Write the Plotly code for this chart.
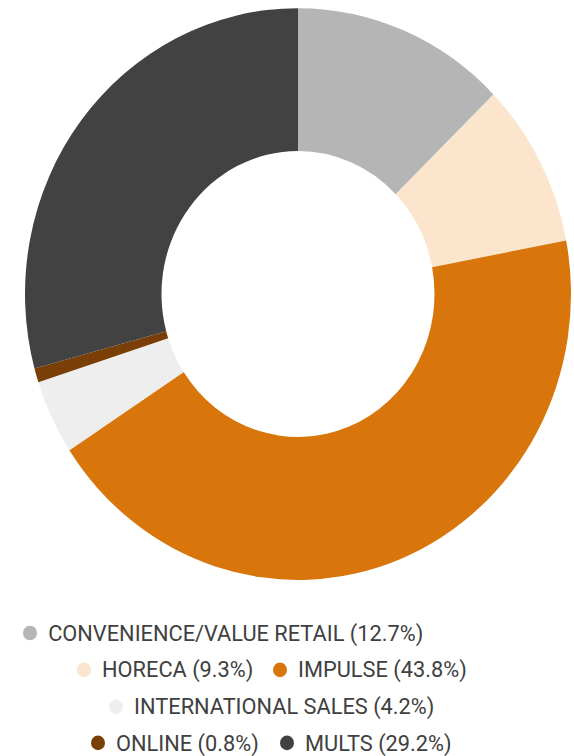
import plotly.graph_objects as go

# Sales mix by channel
labels = ["CONVENIENCE/VALUE RETAIL", "HORECA", "IMPULSE",
          "INTERNATIONAL SALES", "ONLINE", "MULTS"]
shares = [12.7, 9.3, 43.8, 4.2, 0.8, 29.2]
colors = ["#b5b5b5", "#fbe5cd", "#d9760b", "#eeeeee", "#7a3f06", "#424242"]

W, H = 574, 722          # drawing size before the vertical stretch
STRETCH = 756 / H

# donut geometry (pixels)
cx, cy, R = 298, 280.8, 273

# legend layout: rows of item indices, marker centre x per item, row centre y
legend_rows = [[0], [1, 2], [3], [4, 5]]
marker_x = {0: 30, 1: 84, 2: 280, 3: 116, 4: 98, 5: 287}
row_y = [604.5, 639.8, 675.0, 709.5]

fig = go.Figure()
fig.add_trace(go.Pie(
    labels=labels,
    values=shares,
    marker=dict(colors=colors, line=dict(width=0)),
    hole=0.5,
    sort=False,
    direction="clockwise",
    rotation=0,
    textinfo="none",
    hoverinfo="label+percent",
    showlegend=False,
    domain=dict(x=[(cx - R) / W, (cx + R) / W],
                y=[1 - (cy + R) / H, 1 - (cy - R) / H]),
))

shapes, annotations = [], []
for r, row in enumerate(legend_rows):
    py = row_y[r]
    for i in row:
        mx = marker_x[i]
        rad = 7
        shapes.append(dict(
            type="circle", xref="paper", yref="paper",
            x0=(mx - rad) / W, x1=(mx + rad) / W,
            y0=1 - (py + rad) / H, y1=1 - (py - rad) / H,
            fillcolor=colors[i], line=dict(width=0),
        ))
        annotations.append(dict(
            xref="paper", yref="paper",
            x=(mx + 16) / W, y=1 - py / H,
            xanchor="left", yanchor="middle",
            text=f"{labels[i]} ({shares[i]}%)",
            showarrow=False,
            font=dict(family="Roboto", size=21.8, color="#404040"),
        ))

fig.update_layout(
    width=W, height=H,
    margin=dict(l=0, r=0, t=0, b=0),
    paper_bgcolor="white",
    plot_bgcolor="white",
    shapes=shapes,
    annotations=annotations,
)

post = (
    "document.body.style.margin='0';"
    "var gd=document.getElementById('{plot_id}');"
    "gd.style.transformOrigin='0 0';"
    f"gd.style.transform='scale(1,{STRETCH:.5f})';"
)
fig.write_html("out.html", post_script=post)
